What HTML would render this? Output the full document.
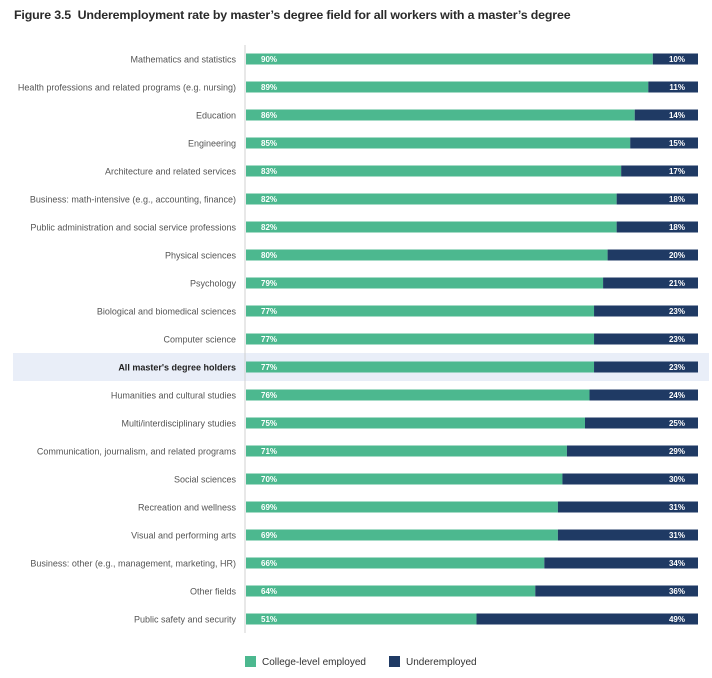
<!DOCTYPE html>
<html><head><meta charset="utf-8"><style>
body{margin:0;width:712px;height:678px;background:#fff;font-family:"Liberation Sans",sans-serif;overflow:hidden;position:relative}
#title{position:absolute;left:14px;top:8px;font-size:12.4px;font-weight:bold;color:#2a2a2a;letter-spacing:-0.15px}
svg{position:absolute;left:0;top:0}
</style></head><body>
<div id="title">Figure 3.5&nbsp; Underemployment rate by master’s degree field for all workers with a master’s degree</div>
<svg id="chart" width="712" height="678"></svg>
<script>
const categories=["Mathematics and statistics","Health professions and related programs (e.g. nursing)","Education","Engineering","Architecture and related services","Business: math-intensive (e.g., accounting, finance)","Public administration and social service professions","Physical sciences","Psychology","Biological and biomedical sciences","Computer science","All master's degree holders","Humanities and cultural studies","Multi/interdisciplinary studies","Communication, journalism, and related programs","Social sciences","Recreation and wellness","Visual and performing arts","Business: other (e.g., management, marketing, HR)","Other fields","Public safety and security"];
const employed=[90,89,86,85,83,82,82,80,79,77,77,77,76,75,71,70,69,69,66,64,51];
const underemployed=[10,11,14,15,17,18,18,20,21,23,23,23,24,25,29,30,31,31,34,36,49];
const highlightIndex=11;
const NS="http://www.w3.org/2000/svg";
const svg=document.getElementById('chart');
const x0=246,plotW=452,y0=59,step=28,bh=11;
const xs=v=>x0+v/100*plotW;
const ys=i=>y0+i*step;
function mk(t,a,p){const e=document.createElementNS(NS,t);for(const k in a)e.setAttribute(k,a[k]);(p||svg).appendChild(e);return e;}
categories.forEach((c,i)=>{
 const y=ys(i);
 if(i===highlightIndex){const h=mk('rect',{x:13,y:y-14,width:696,height:28,fill:'#e9eef8'});
 
 }
});
const ax=mk('line',{x1:245,y1:45,x2:245,y2:633,stroke:'#d0d0d0','stroke-width':1});


categories.forEach((c,i)=>{
 const y=ys(i);
 const t=mk('text',{x:236,y:y+3.5,'text-anchor':'end','font-size':'9',fill:i===highlightIndex?'#222':'#555','font-weight':i===highlightIndex?'bold':'normal'});
 t.textContent=c;
 
 
 const g=mk('rect',{x:xs(0),y:y-bh/2,width:xs(employed[i])-xs(0),height:bh,fill:'#4cb88f'});
 
 
 const n=mk('rect',{x:xs(employed[i]),y:y-bh/2,width:xs(employed[i]+underemployed[i])-xs(employed[i]),height:bh,fill:'#1f3a64'});
 
 
 const l1=mk('text',{x:xs(0)+15,y:y+3,'font-size':'8','font-weight':'bold',fill:'#fff'});
 l1.textContent=employed[i]+'%';
 
 
 const l2=mk('text',{x:xs(employed[i]+underemployed[i])-13,y:y+3,'text-anchor':'end','font-size':'8','font-weight':'bold',fill:'#fff'});
 l2.textContent=underemployed[i]+'%';
 
 
});
const lg=mk('g',{});


const s1=mk('rect',{x:245,y:656,width:11,height:11,fill:'#4cb88f'},lg);


const t1=mk('text',{x:262,y:665,'font-size':'10',fill:'#333'},lg);t1.textContent='College-level employed';


const s2=mk('rect',{x:389,y:656,width:11,height:11,fill:'#1f3a64'},lg);


const t2=mk('text',{x:406,y:665,'font-size':'10',fill:'#333'},lg);t2.textContent='Underemployed';


</script>
</body></html>
